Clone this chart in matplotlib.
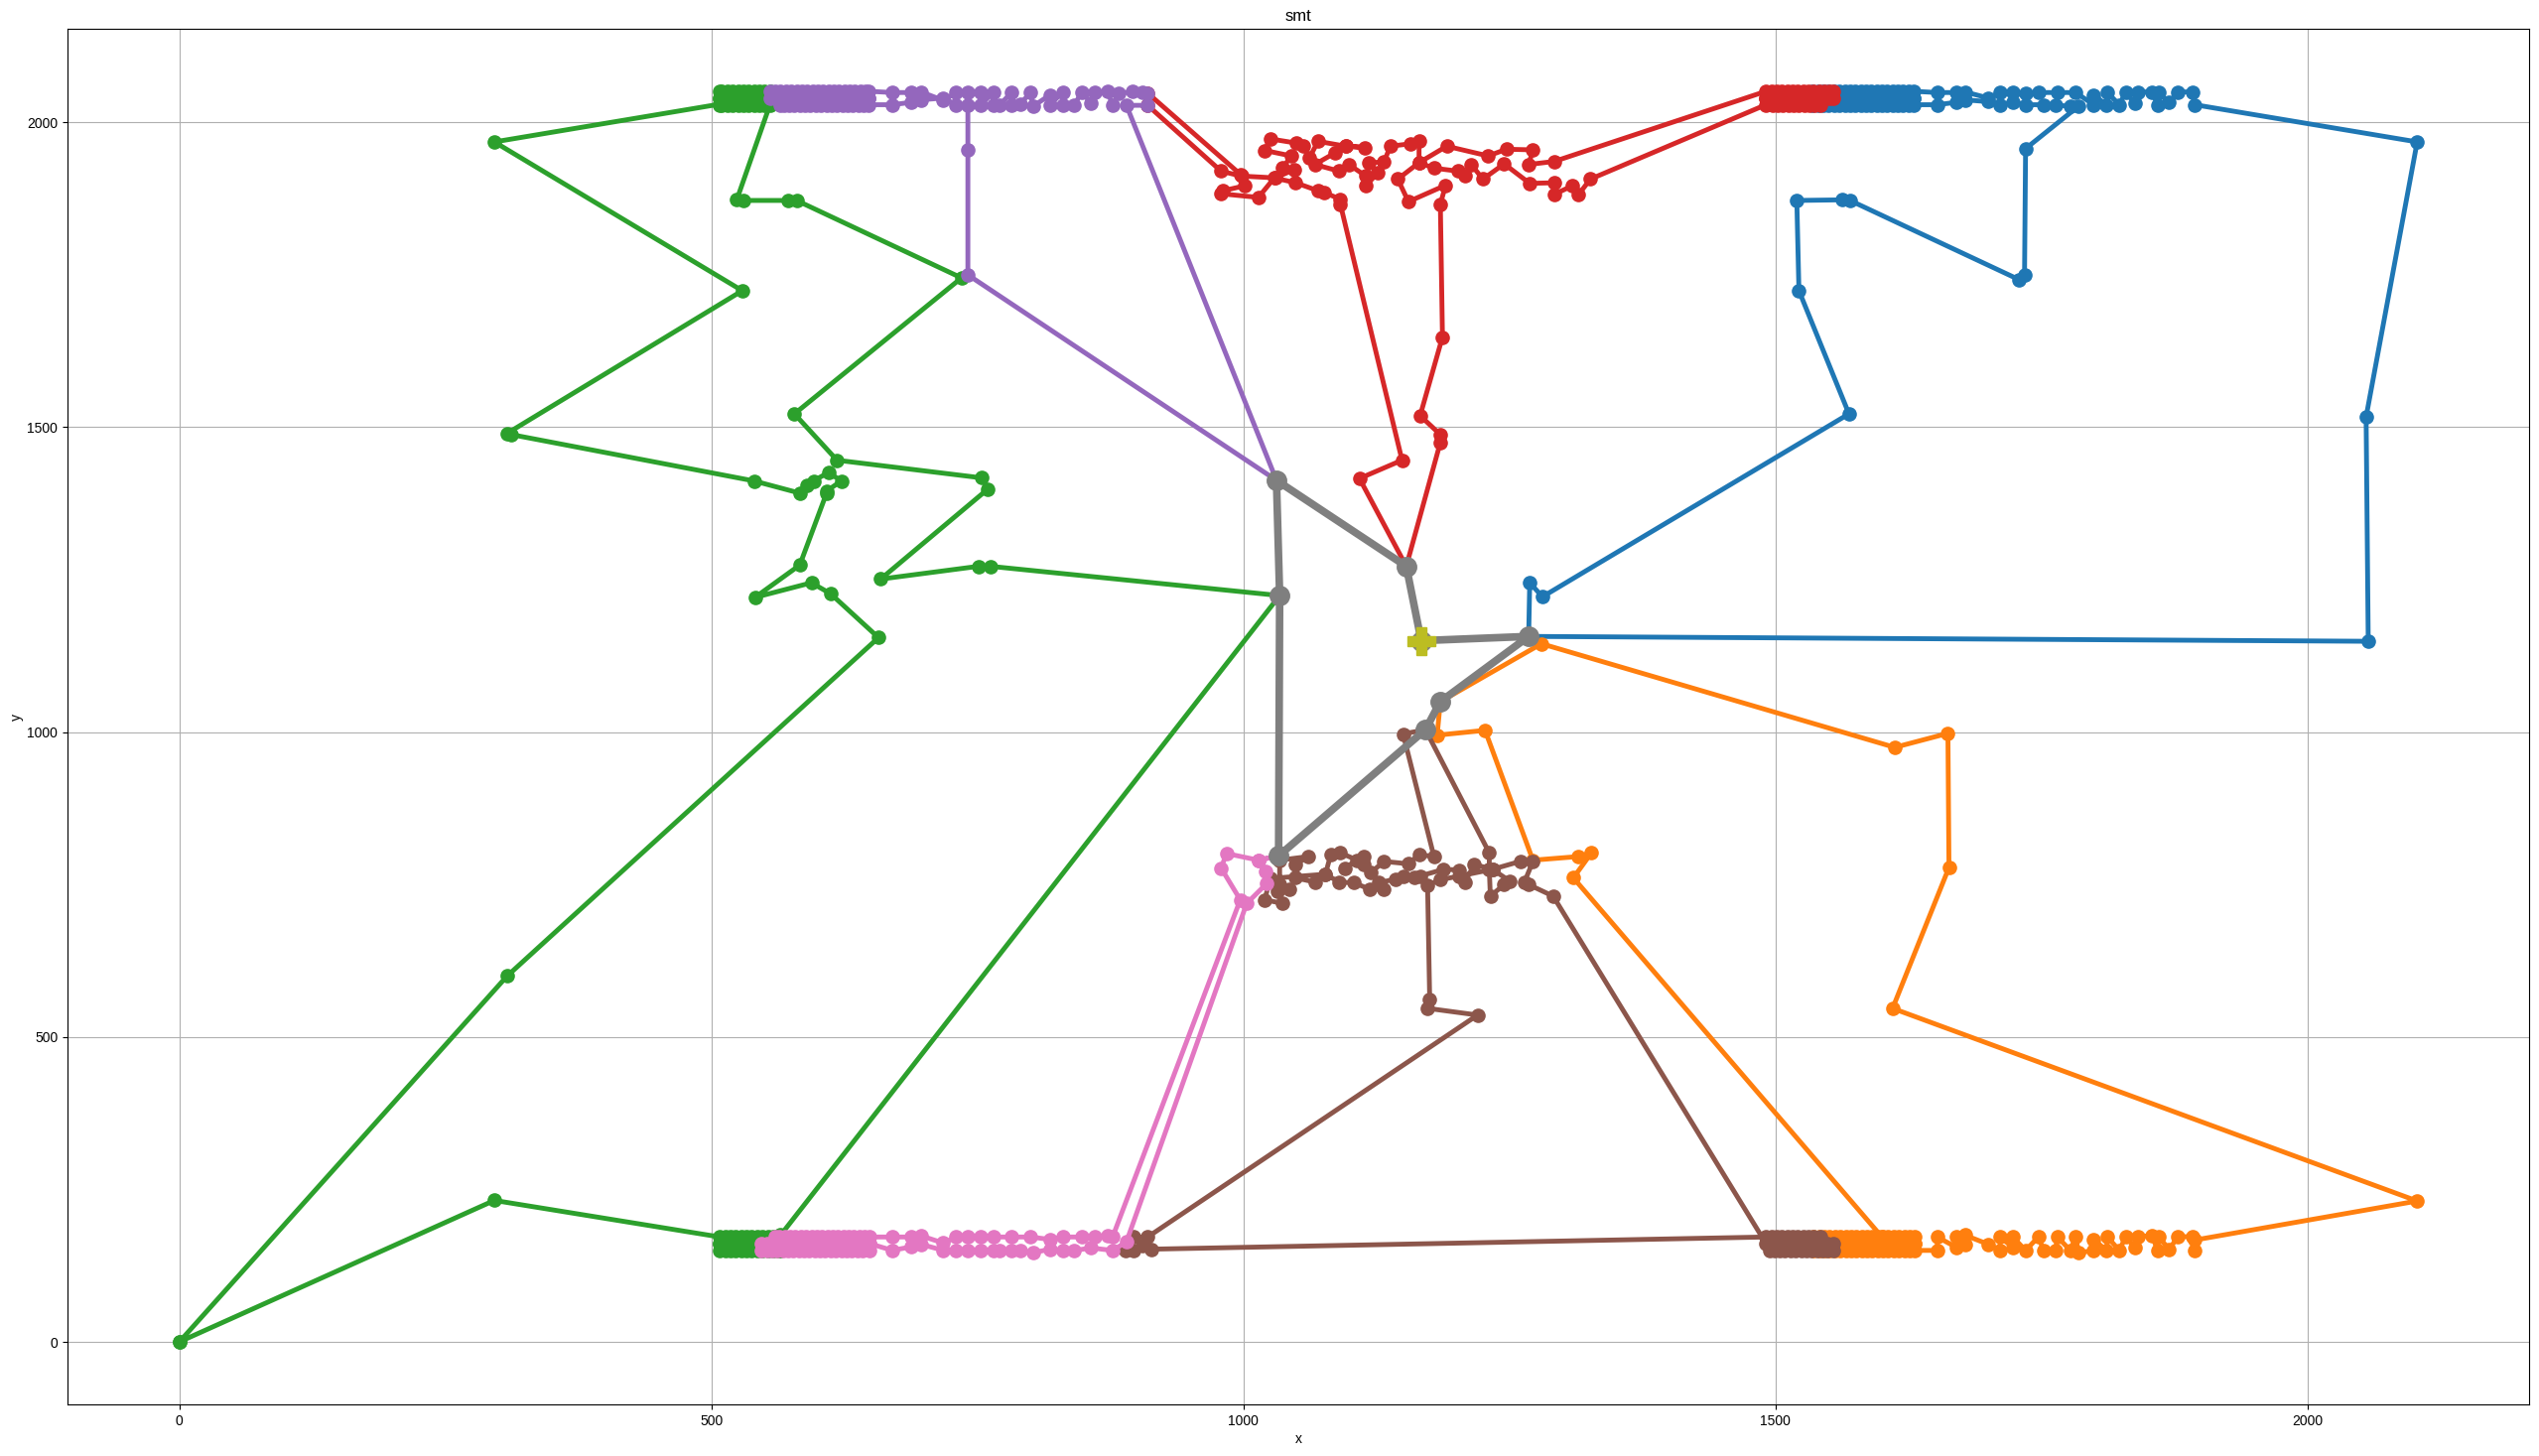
import numpy as np
import matplotlib
matplotlib.use("Agg")
import matplotlib.pyplot as plt

plt.rcParams['font.family'] = ['Liberation Sans', 'DejaVu Sans']

# y levels of the dense rows
TOP_N, MID_N, BOT_N = 2051, 2040, 2029
TOP_S, MID_S, BOT_S = 172, 161, 150

# dense block columns
blue_block = [1630,1625,1620,1615,1610,1605,1600,1595,1590,1585,1580,1575,1570,1565,1560,1555,1550,1545,1540,1535]
orange_block = [1631,1626,1621,1616,1611,1606,1601,1596,1591,1586,1581,1576,1571,1566,1561,1556,1551,1546,1541,1536]
red_top = [1491,1496,1501,1506,1511,1516,1521,1526,1531,1536,1541,1546,1551,1554]
red_bot = [1542,1537,1532,1527,1522,1517,1512,1507,1502,1497,1491]
brown_top = [1491,1496,1501,1506,1511,1516,1521,1526,1531,1536,1542]
brown_bot = [1554,1549,1544,1539,1534,1529,1524,1519,1514,1509,1504,1499,1495]
green_s_block = [508,513,518,523,528,533,538,543,548,553,558,563,565]
green_n_block = [555,550,545,540,535,530,525,520,515,510,508]
purple_bot = [648,643,638,633,628,623,618,613,608,603,598,593,588,583,578,573,568,565]
purple_top = [555,560,565,570,575,580,585,590,595,600,605,610,615,620,625,630,635,640,645,648]
pink_top = [649,644,639,634,629,624,619,614,609,604,599,594,589,584,579,574,569,564,560]
pink_bot = [547,552,557,562,567,572,577,582,587,592,597,602,607,612,617,622,627,632,637,642,649]

depot = [(1167, 1150)]

grey_pts = [(1153,1272),(1031,1413),(1034,1224),(1033,797),(1171,1004),(1185,1050),(1268,1157)]

blue_a = [(1268,1157),(2057,1149),(2055,1517),(2103,1968),(1894,2029),(1892,2050),(1878,2050),(1870,2033),
          (1860,2049),(1859,2029),(1854,2050),(1841,2050),(1838,2031),(1829,2049),(1823,2029),(1812,2049),
          (1811,2029),(1799,2045),(1799,2029),(1782,2049),(1765,2049),(1747,2049),(1735,2048),(1723,2049),
          (1711,2049),(1700,2040),(1678,2050),(1670,2049),(1652,2049)]
blue_b = [(1652,2029),(1670,2033),(1678,2037),(1700,2034),(1711,2029),(1723,2033),(1735,2029),(1752,2029),
          (1763,2029),(1777,2026),(1785,2027),(1735,1957),(1734,1750),(1729,1742),(1570,1872),(1563,1873),
          (1520,1872),(1522,1724),(1569,1522),(1281,1222),(1269,1245),(1268,1157)]

orange_a = [(1185,1050),(1280,1145),(1612,975),(1662,998),(1663,778),(1610,547),(2103,231),(1894,167),(1894,150),
            (1892,173),(1878,172),(1870,152),(1860,172),(1859,150),(1854,174),(1841,173),(1838,155),(1829,172),
            (1823,150),(1812,172),(1811,150),(1799,168),(1799,150),(1785,146),(1782,172),(1777,150),(1765,172),
            (1763,150),(1752,150),(1747,172),(1735,150),(1723,172),(1723,155),(1711,172),(1711,150),(1700,160),
            (1678,175),(1678,160),(1670,172),(1670,155),(1652,172),(1652,150)]
orange_b = [(1600,172),(1310,761),(1327,802),(1315,796),(1272,790),(1227,1003),(1182,995),(1185,1050)]

green_a = [(0,0),(296,232)]
green_b = [(565,175),(1034,1224),(762,1272),(751,1272),(659,1251),(760,1399),(754,1417),(618,1446),(578,1522),
           (735,1745),(580,1872),(572,1872),(530,1872),(524,1874)]
green_c = [(508,2030),(296,1968),(529,1724),(308,1490),(312,1488),(540,1412),(583,1392),(590,1405),(596,1412),
           (610,1426),(622,1412),(608,1395),(608,1391),(583,1274),(541,1221),(594,1245),(612,1227),(657,1155),
           (308,600),(0,0)]

red_a = [(1153,1272),(1185,1475),(1185,1488),(1166,1519),(1187,1648),(1185,1866),(1190,1897),(1155,1870),
         (1145,1907),(1165,1934),(1191,1961),(1230,1945),(1247,1956),(1272,1955),(1268,1931),(1292,1936)]
red_b = [(1326,1907),(1315,1882),(1309,1896),(1292,1882),(1292,1901),(1269,1900),(1245,1932),(1225,1907),
         (1214,1931),(1208,1912),(1202,1920),(1179,1925),(1165,1934),(1165,1969),(1157,1965),(1138,1961),
         (1132,1935),(1118,1934),(1126,1917),(1115,1896),(1115,1912),(1099,1931),(1090,1920),(1067,1931),
         (1086,1950),(1096,1961),(1114,1959),(1096,1961),(1070,1969),(1062,1942),(1056,1961),(1050,1966),
         (1025,1973),(1020,1954),(1045,1945),(1037,1926),(1048,1923),(1030,1909),(998,1912),(979,1920),
         (910,2028),(910,2048),(997,1915),(1001,1896),(981,1888),(979,1883),(1014,1877),(1029,1909),
         (1049,1901),(1070,1888),(1076,1885),(1091,1874),(1091,1866),(1149,1446),(1109,1416),(1153,1272)]

purple_a = [(1031,1413),(741,1750),(741,1955),(741,2029),(730,2029),(718,2040),(697,2037),(688,2033),(670,2029)]
purple_b = [(670,2049),(688,2049),(697,2050),(718,2036),(730,2049),(741,2049),(753,2049),(753,2029),(765,2049),
            (765,2029),(771,2029),(782,2049),(782,2029),(790,2030),(800,2049),(802,2026),(818,2045),(818,2029),
            (830,2049),(830,2029),(841,2029),(848,2049),(857,2032),(860,2049),(872,2051),(877,2029),(883,2047),
            (896,2051),(905,2049),(910,2048),(910,2028),(890,2028),(1031,1413)]

brown_a = [(1171,1004),(1150,997),(1179,796),(1165,799),(1155,784),(1132,788),(1120,770),(1113,783),(1113,796),
           (1095,777),(1107,790),(1091,802),(1082,799),(1077,767),(1067,754),(1049,761),(1049,783),(1061,796),
           (1034,790),(1034,750),(1043,743),(1032,739),(1037,719),(1020,725),(1025,760),(1077,767),(1090,754),
           (1104,753),(1119,742),(1132,742),(1127,753),(1143,759),(1150,764),(1161,761),(1166,764),(1188,775),
           (1203,774),(1208,754),(1217,783),(1234,775),(1203,764),(1185,758),(1173,749),(1175,562),(1173,547),
           (1220,536),(910,172),(897,172),(889,150),(897,150),(905,158),(913,152)]
brown_b = [(1291,731),(1268,750),(1264,754),(1272,788),(1260,788),(1234,775),(1250,756),(1245,750),(1232,731),
           (1231,775),(1231,802),(1171,1004)]

pink_a = [(1033,797),(1014,790),(984,801),(979,777),(997,725),(877,172),(872,174),(860,172),(848,172),(830,172),
          (818,168),(800,172),(782,172),(765,172),(753,172),(741,172),(730,172),(718,162),(697,174),(688,172),(670,172)]
pink_b = [(670,150),(688,156),(697,160),(718,150),(730,150),(741,150),(753,150),(765,150),(771,150),(782,150),
          (790,150),(802,146),(818,152),(830,150),(841,150),(857,154),(877,150),(890,164),(1003,719),(1022,752),
          (1021,772),(1014,790),(1033,797)]


def sweep(xs, a, b):
    """Walk a dense block column by column, visiting both rows in each column."""
    pts = []
    for i, x in enumerate(xs):
        pts += [(x, a), (x, b)] if i % 2 == 0 else [(x, b), (x, a)]
    return pts


blue_route = blue_a + sweep(blue_block, TOP_N, MID_N) + sweep(blue_block[::-1], BOT_N, MID_N) + blue_b
orange_route = orange_a + sweep(orange_block, BOT_S, MID_S) + sweep(orange_block[::-1], TOP_S, MID_S) + orange_b
green_route = (green_a + sweep(green_s_block, TOP_S, MID_S) + sweep(green_s_block[::-1], BOT_S, MID_S) + green_b
               + sweep(green_n_block, BOT_N, MID_N) + sweep(green_n_block[::-1], TOP_N, MID_N) + green_c)
red_route = red_a + sweep(red_top, TOP_N, MID_N) + sweep(red_bot, MID_N, BOT_N) + red_b
purple_route = purple_a + sweep(purple_bot, BOT_N, MID_N) + sweep(purple_top, TOP_N, MID_N) + purple_b
brown_route = brown_a + sweep(brown_top, TOP_S, MID_S) + sweep(brown_bot, MID_S, BOT_S) + brown_b
pink_route = pink_a + sweep(pink_top, TOP_S, MID_S) + sweep(pink_bot, BOT_S, MID_S) + pink_b
grey_route = depot + grey_pts + depot

fig = plt.figure(figsize=(25.58, 14.67), dpi=100)
ax = fig.add_axes([68 / 2558, 1 - 1415 / 1467, (2548 - 68) / 2558, (1415 - 29) / 1467])


def draw(route, color, lw=3.5, ms=9.5):
    pts = np.array(route, dtype=float)
    ax.plot(pts[:, 0], pts[:, 1], '-o', color=color, lw=lw, ms=ms)


for route, col in [(blue_route, 'C0'), (orange_route, 'C1'), (green_route, 'C2'), (red_route, 'C3'),
                   (purple_route, 'C4'), (brown_route, 'C5'), (pink_route, 'C6')]:
    draw(route, col)
draw(grey_route, 'C7', lw=5.5, ms=14)
d = np.array(depot, dtype=float)
ax.plot(d[:, 0], d[:, 1], 'P', color='C8', ms=20)

ax.grid(True)
for g in ax.get_xgridlines() + ax.get_ygridlines():
    g.set_zorder(0.5)
ax.set_xticks([0, 500, 1000, 1500, 2000])
ax.set_yticks([0, 500, 1000, 1500, 2000])
ax.set_title('smt')
ax.set_xlabel('x', labelpad=3)
ax.set_ylabel('y', labelpad=2)
fig.savefig('out.png', dpi=100)
